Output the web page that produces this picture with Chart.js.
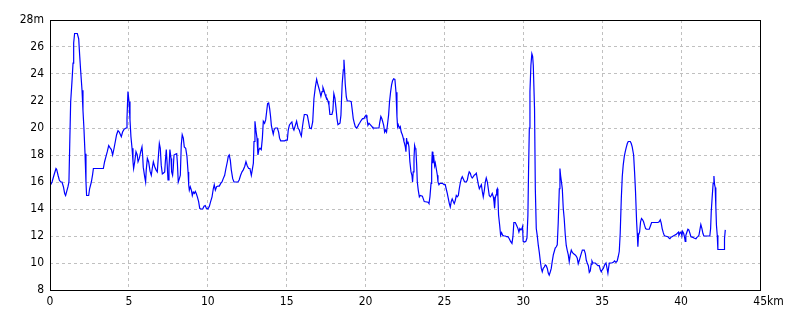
<!DOCTYPE html>
<html>
<head>
<meta charset="utf-8">
<title>Elevation profile</title>
<script src="https://cdn.jsdelivr.net/npm/chart.js@4.4.0/dist/chart.umd.min.js"></script>
<style>
    html, body { margin: 0; padding: 0; background: #fff; }
    #profile { display: block; }
</style>
</head>
<body>
<canvas id="profile" width="800" height="320"></canvas>
<script>
// distance along the course (km) and elevation (m)
var distKm = [
    0.04, 0.13, 0.25, 0.38, 0.42, 0.51, 0.59, 0.68, 0.76, 0.85, 0.93, 0.99, 1.06, 1.14, 1.20, 1.25,
    1.31, 1.39, 1.46, 1.50, 1.56, 1.73, 1.82, 1.88, 1.94, 2.03, 2.09, 2.15, 2.22, 2.28, 2.32, 2.45,
    2.51, 2.62, 2.70, 2.75, 3.38, 3.46, 3.55, 3.63, 3.72, 3.80, 3.89, 3.97, 4.06, 4.14, 4.22, 4.31,
    4.39, 4.52, 4.60, 4.69, 4.82, 4.88, 4.94, 5.01, 5.07, 5.13, 5.20, 5.26, 5.30, 5.37, 5.45, 5.53,
    5.58, 5.66, 5.75, 5.83, 5.87, 5.91, 6.00, 6.06, 6.10, 6.17, 6.25, 6.34, 6.42, 6.48, 6.55, 6.63,
    6.72, 6.80, 6.86, 6.93, 6.99, 7.05, 7.12, 7.18, 7.27, 7.31, 7.37, 7.43, 7.48, 7.54, 7.60, 7.67,
    7.71, 7.77, 7.81, 7.86, 7.94, 8.03, 8.07, 8.13, 8.20, 8.26, 8.32, 8.38, 8.45, 8.51, 8.60, 8.68,
    8.75, 8.79, 8.83, 8.89, 8.96, 9.02, 9.08, 9.15, 9.21, 9.27, 9.34, 9.42, 9.49, 9.55, 9.68, 9.76,
    9.84, 9.91, 10.01, 10.10, 10.18, 10.27, 10.35, 10.41, 10.48, 10.56, 10.65, 10.73, 10.82, 10.90, 10.98, 11.07,
    11.15, 11.24, 11.30, 11.36, 11.43, 11.49, 11.58, 11.66, 11.91, 11.99, 12.08, 12.17, 12.25, 12.34, 12.42, 12.50,
    12.59, 12.67, 12.76, 12.82, 12.89, 12.93, 12.99, 13.05, 13.12, 13.18, 13.24, 13.31, 13.39, 13.46, 13.52, 13.60,
    13.67, 13.73, 13.79, 13.86, 13.92, 13.98, 14.03, 14.09, 14.15, 14.20, 14.28, 14.41, 14.49, 14.55, 14.62, 14.87,
    14.96, 15.04, 15.10, 15.17, 15.25, 15.33, 15.40, 15.46, 15.55, 15.63, 15.72, 15.80, 15.86, 15.93, 15.99, 16.05,
    16.12, 16.22, 16.31, 16.39, 16.46, 16.56, 16.65, 16.73, 16.82, 16.90, 16.96, 17.03, 17.09, 17.17, 17.24, 17.30,
    17.36, 17.43, 17.49, 17.55, 17.62, 17.68, 17.74, 17.87, 17.93, 17.99, 18.06, 18.12, 18.19, 18.25, 18.38, 18.44,
    18.48, 18.52, 18.59, 18.63, 18.67, 18.71, 18.78, 18.84, 18.99, 19.09, 19.16, 19.22, 19.29, 19.35, 19.43, 19.50,
    19.56, 19.62, 19.69, 19.75, 19.81, 19.90, 19.96, 20.03, 20.09, 20.15, 20.22, 20.28, 20.34, 20.41, 20.47, 20.85,
    20.89, 20.97, 21.03, 21.08, 21.15, 21.21, 21.27, 21.33, 21.40, 21.46, 21.52, 21.59, 21.65, 21.71, 21.78, 21.86,
    21.93, 21.99, 22.03, 22.07, 22.14, 22.20, 22.26, 22.33, 22.39, 22.43, 22.47, 22.52, 22.56, 22.60, 22.64, 22.69,
    22.75, 22.81, 22.88, 22.94, 22.98, 23.02, 23.07, 23.11, 23.15, 23.19, 23.24, 23.28, 23.34, 23.41, 23.47, 23.60,
    23.66, 23.72, 23.96, 24.02, 24.08, 24.15, 24.19, 24.23, 24.27, 24.31, 24.38, 24.42, 24.48, 24.55, 24.59, 24.65,
    24.71, 24.88, 24.97, 25.05, 25.11, 25.18, 25.24, 25.31, 25.37, 25.43, 25.49, 25.56, 25.62, 25.69, 25.75, 25.81,
    25.88, 25.94, 26.00, 26.07, 26.13, 26.19, 26.26, 26.32, 26.38, 26.45, 26.51, 26.57, 26.64, 26.70, 26.76, 26.83,
    26.89, 26.95, 27.02, 27.08, 27.15, 27.21, 27.27, 27.34, 27.40, 27.46, 27.53, 27.59, 27.65, 27.72, 27.78, 27.84,
    27.91, 27.97, 28.03, 28.10, 28.14, 28.18, 28.22, 28.27, 28.31, 28.35, 28.39, 28.43, 28.50, 28.56, 28.62, 28.69,
    28.77, 28.86, 28.94, 29.02, 29.11, 29.19, 29.28, 29.34, 29.40, 29.49, 29.57, 29.66, 29.72, 29.78, 29.85, 29.91,
    29.95, 29.99, 30.08, 30.16, 30.23, 30.29, 30.33, 30.38, 30.42, 30.48, 30.54, 30.59, 30.63, 30.67, 30.71, 30.76,
    30.82, 30.88, 30.95, 31.01, 31.07, 31.14, 31.20, 31.26, 31.33, 31.39, 31.45, 31.52, 31.58, 31.64, 31.71, 31.77,
    31.83, 31.90, 31.96, 32.02, 32.09, 32.15, 32.21, 32.28, 32.32, 32.36, 32.40, 32.47, 32.53, 32.59, 32.66, 32.72,
    32.78, 32.85, 32.91, 32.97, 33.04, 33.10, 33.17, 33.23, 33.29, 33.36, 33.42, 33.48, 33.55, 33.61, 33.67, 33.74,
    33.86, 33.93, 33.99, 34.05, 34.12, 34.18, 34.24, 34.30, 34.35, 34.41, 34.56, 34.64, 34.73, 34.81, 34.88, 34.94,
    35.00, 35.07, 35.15, 35.24, 35.30, 35.36, 35.40, 35.45, 35.61, 35.70, 35.78, 35.87, 35.95, 36.02, 36.08, 36.14,
    36.21, 36.27, 36.33, 36.40, 36.46, 36.52, 36.59, 36.65, 36.78, 36.84, 36.90, 36.99, 37.05, 37.11, 37.18, 37.22,
    37.26, 37.30, 37.37, 37.43, 37.49, 37.56, 37.62, 37.68, 37.75, 37.81, 37.98, 38.07, 38.13, 38.53, 38.61, 38.68,
    38.74, 38.80, 38.87, 38.93, 38.99, 39.16, 39.23, 39.29, 39.35, 39.42, 39.50, 39.58, 39.67, 39.75, 39.84, 39.86,
    39.92, 39.99, 40.05, 40.09, 40.16, 40.22, 40.26, 40.30, 40.37, 40.43, 40.49, 40.56, 40.62, 40.75, 40.81, 40.94,
    41.00, 41.06, 41.13, 41.19, 41.25, 41.32, 41.38, 41.44, 41.82, 41.87, 41.91, 41.97, 42.03, 42.08, 42.12, 42.16,
    42.20, 42.24, 42.29, 42.33, 42.73, 42.75, 42.80
];
var elevM = [
    15.8, 16.0, 16.5, 17.0, 16.95, 16.5, 16.15, 16.0, 16.0, 15.65, 15.15, 15.0, 15.3, 15.65, 16.0, 18.75,
    21.95, 23.4, 24.8, 26.3, 27.0, 27.0, 26.6, 25.4, 24.3, 22.8, 21.3, 20.0, 18.1, 16.0, 15.0, 15.0,
    15.5, 16.0, 16.55, 17.0, 17.0, 17.5, 17.9, 18.25, 18.7, 18.55, 18.4, 18.0, 18.5, 19.0, 19.5, 19.8,
    19.7, 19.35, 19.7, 19.9, 20.0, 20.7, 22.7, 21.95, 20.6, 19.35, 18.5, 17.5, 17.0, 17.5, 18.25, 18.0,
    17.5, 17.75, 18.25, 18.6, 18.0, 17.1, 16.4, 16.0, 16.9, 17.75, 17.5, 16.8, 16.5, 17.0, 17.5, 17.15,
    16.9, 16.75, 17.75, 18.85, 18.5, 17.25, 16.6, 16.65, 16.75, 17.5, 18.4, 17.25, 16.15, 17.0, 18.4, 17.75,
    16.75, 16.5, 17.0, 18.0, 18.05, 18.1, 17.5, 16.0, 16.25, 16.5, 18.75, 19.5, 19.25, 18.6, 18.5, 17.9,
    16.75, 15.8, 15.4, 15.65, 15.4, 15.0, 15.25, 15.15, 15.3, 15.15, 14.9, 14.55, 14.05, 14.0, 14.0, 14.2,
    14.25, 14.05, 14.0, 14.2, 14.55, 14.9, 15.5, 15.8, 15.4, 15.65, 15.7, 15.7, 15.9, 16.0, 16.25, 16.5,
    17.0, 17.5, 17.9, 18.0, 17.6, 16.9, 16.25, 16.0, 16.0, 16.15, 16.5, 16.75, 16.9, 17.15, 17.5, 17.2,
    17.0, 17.0, 16.5, 16.9, 17.4, 19.0, 20.5, 19.85, 19.25, 18.0, 18.4, 18.5, 18.4, 19.25, 20.5, 20.35,
    20.6, 21.2, 21.8, 21.85, 21.45, 20.85, 20.2, 19.85, 19.55, 19.85, 20.0, 20.0, 19.7, 19.25, 19.05, 19.05,
    19.1, 19.1, 19.85, 20.2, 20.35, 20.45, 20.0, 19.85, 20.2, 20.5, 20.0, 19.85, 19.6, 19.4, 20.0, 20.5,
    21.0, 21.0, 20.95, 20.45, 20.0, 19.95, 20.45, 22.2, 23.05, 23.6, 23.3, 23.0, 22.75, 22.35, 22.7, 23.0,
    22.8, 22.5, 22.3, 22.2, 22.0, 21.7, 21.0, 21.0, 21.3, 22.55, 22.2, 21.55, 20.7, 20.25, 20.35, 20.95,
    22.2, 23.3, 24.3, 25.05, 24.3, 23.3, 22.3, 22.0, 22.0, 21.95, 21.3, 20.7, 20.35, 20.1, 20.0, 20.1,
    20.25, 20.35, 20.5, 20.6, 20.7, 20.7, 20.85, 20.95, 20.7, 20.2, 20.35, 20.35, 20.2, 20.1, 20.0, 20.0,
    20.35, 20.85, 20.7, 20.5, 20.2, 19.7, 19.85, 19.7, 20.35, 20.95, 21.95, 22.7, 23.2, 23.5, 23.65, 23.6,
    22.65, 20.85, 20.1, 20.25, 20.0, 20.1, 19.7, 19.5, 19.25, 19.0, 18.85, 18.6, 18.25, 19.25, 18.85, 19.0,
    18.6, 17.5, 16.75, 16.5, 16.0, 16.75, 17.75, 18.7, 18.5, 18.4, 17.25, 16.0, 15.4, 14.9, 15.0, 14.95,
    14.75, 14.55, 14.5, 14.4, 14.9, 15.9, 17.25, 18.25, 17.4, 18.0, 17.2, 17.4, 17.0, 16.5, 16.0, 15.8,
    15.9, 15.9, 15.8, 15.8, 15.5, 15.15, 14.8, 14.4, 14.15, 14.55, 14.75, 14.55, 14.4, 14.65, 15.0, 14.9,
    15.0, 15.5, 15.9, 16.25, 16.4, 16.25, 16.05, 16.0, 16.0, 16.15, 16.5, 16.75, 16.65, 16.4, 16.3, 16.4,
    16.5, 16.55, 16.65, 16.25, 15.8, 15.5, 15.65, 15.8, 15.3, 14.9, 15.4, 16.0, 16.3, 16.0, 15.5, 15.0,
    14.9, 15.0, 15.15, 14.9, 14.55, 14.05, 14.8, 15.05, 15.4, 15.5, 14.9, 13.55, 12.8, 12.05, 12.25, 12.05,
    12.0, 12.0, 11.95, 11.95, 11.8, 11.6, 11.45, 11.95, 13.0, 13.0, 12.8, 12.55, 12.3, 12.55, 12.45, 12.55,
    12.7, 11.6, 11.55, 11.6, 11.85, 13.55, 16.75, 20.0, 22.7, 24.65, 25.5, 25.3, 24.65, 24.65, 21.45, 15.5,
    12.55, 12.05, 11.3, 10.8, 10.2, 9.6, 9.35, 9.6, 9.7, 9.85, 9.8, 9.6, 9.25, 9.1, 9.35, 9.6,
    10.1, 10.6, 10.85, 11.1, 11.2, 11.35, 12.95, 15.5, 17.0, 16.5, 16.15, 15.5, 14.05, 13.3, 12.05, 11.3,
    10.95, 10.6, 10.1, 10.6, 10.95, 10.8, 10.7, 10.65, 10.6, 10.5, 10.35, 9.95, 10.2, 10.45, 10.7, 10.95,
    10.95, 10.7, 10.2, 10.0, 9.8, 9.3, 9.4, 9.9, 10.15, 10.0, 10.0, 9.9, 9.8, 9.8, 9.5, 9.35,
    9.5, 9.6, 9.85, 10.0, 10.0, 9.25, 9.6, 10.0, 10.0, 10.05, 10.15, 10.05, 10.15, 10.5, 10.85, 12.2,
    14.8, 16.4, 17.25, 17.9, 18.25, 18.55, 18.85, 19.0, 19.0, 18.85, 18.6, 18.0, 16.75, 15.3, 13.05, 12.2,
    11.2, 12.05, 12.3, 13.05, 13.3, 13.2, 13.05, 12.8, 12.55, 12.5, 12.5, 12.8, 13.0, 13.0, 13.05, 13.2,
    12.95, 12.55, 12.25, 12.05, 12.0, 11.95, 11.85, 11.8, 11.9, 11.95, 12.0, 12.05, 12.1, 12.2, 12.3, 12.05,
    12.2, 12.3, 12.0, 12.35, 12.2, 11.9, 11.6, 12.05, 12.3, 12.5, 12.45, 12.2, 11.95, 11.9, 11.85, 11.8,
    11.9, 11.95, 12.05, 12.45, 12.85, 12.55, 12.2, 12.0, 12.0, 12.55, 13.8, 14.9, 15.9, 16.45, 15.8, 15.6,
    14.2, 12.8, 12.05, 11.0, 11.0, 11.8, 12.45
];

var xMin = 0, xMax = 45, xStep = 5;
var yMin = 8, yMax = 28, yStep = 2;

var points = [];
for (var i = 0; i < distKm.length; i++) {
    points.push({ x: distKm[i], y: elevM[i] });
}

var labelFont = { family: "'Liberation Sans Narrow', 'DejaVu Sans Condensed', 'Liberation Sans', sans-serif", size: 12 };

// closed black frame round the plot area
var framePlugin = {
    id: 'frame',
    afterDraw: function(chart) {
        var a = chart.chartArea;
        var c = chart.ctx;
        c.save();
        c.strokeStyle = '#000';
        c.lineWidth = 1;
        c.strokeRect(a.left + 0.5, a.top + 0.5, a.right - a.left, a.bottom - a.top);
        c.restore();
    }
};

var context = document.getElementById('profile').getContext('2d');
var chart = new Chart(context, {
    type: 'line',
    data: {
        datasets: [{
            data: points,
            borderColor: '#0000ff',
            borderWidth: 1.2,
            pointRadius: 0,
            tension: 0,
            fill: false
        }]
    },
    options: {
        responsive: false,
        animation: false,
        devicePixelRatio: 1,
        layout: { padding: { left: 0, right: 40, top: 20, bottom: 0 } },
        plugins: {
            legend: { display: false },
            tooltip: { enabled: false }
        },
        scales: {
            x: {
                type: 'linear',
                min: xMin,
                max: xMax,
                afterFit: function(scale) { scale.height = 30; },
                ticks: {
                    stepSize: xStep,
                    color: '#000',
                    font: labelFont,
                    padding: 5,
                    maxRotation: 0,
                    callback: function(value) {
                        return value === xMax ? '     ' + value + 'km' : value;
                    }
                },
                grid: { color: '#c0c0c0', drawTicks: false },
                border: { display: false, dash: [3, 3] }
            },
            y: {
                type: 'linear',
                min: yMin,
                max: yMax,
                afterFit: function(scale) { scale.width = 50; },
                ticks: {
                    stepSize: yStep,
                    color: '#000',
                    font: labelFont,
                    padding: 6,
                    callback: function(value) {
                        return value === yMax ? value + 'm' : value;
                    }
                },
                grid: { color: '#c0c0c0', drawTicks: false },
                border: { display: false, dash: [3, 3] }
            }
        }
    },
    plugins: [framePlugin]
});
</script>
</body>
</html>
